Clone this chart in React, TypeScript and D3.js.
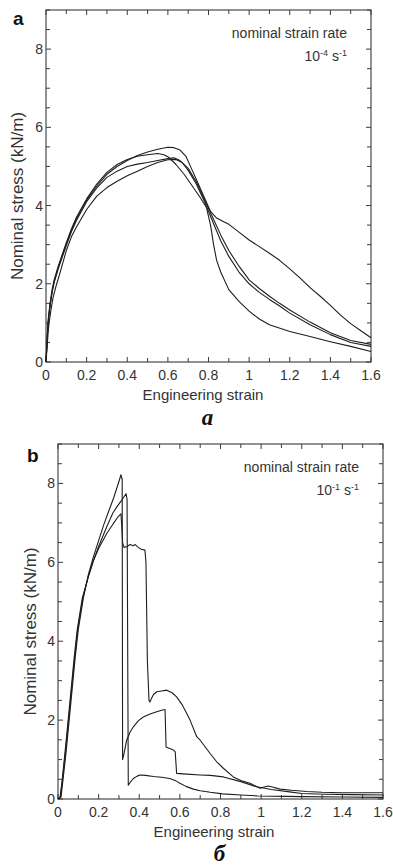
import React from "react";
import * as d3 from "d3";

// ---------- data ----------
// Panel a (strain rate 1e-4 s^-1): four specimens, [strain, stress kN/m]
const aCurveA: [number, number][] = [
  [0, 0], [0.004, 0.4], [0.008, 0.8], [0.012, 1.1], [0.02, 1.45], [0.03, 1.8], [0.04, 2.05], [0.06, 2.4],
  [0.08, 2.72], [0.1, 3.02], [0.125, 3.37], [0.15, 3.67], [0.2, 4.14], [0.25, 4.5], [0.3, 4.8], [0.35, 5.0],
  [0.4, 5.15], [0.45, 5.28], [0.5, 5.37], [0.55, 5.44], [0.6, 5.49], [0.63, 5.48], [0.66, 5.42], [0.69, 5.25],
  [0.72, 4.9], [0.75, 4.55], [0.78, 4.2], [0.81, 3.85], [0.84, 3.68], [0.87, 3.6], [0.9, 3.52], [0.95, 3.32],
  [1.0, 3.12], [1.05, 2.95], [1.1, 2.78], [1.15, 2.6], [1.2, 2.38], [1.25, 2.15], [1.3, 1.9], [1.35, 1.68],
  [1.4, 1.45], [1.45, 1.2], [1.5, 0.98], [1.55, 0.8], [1.6, 0.62],
];
const aCurveB: [number, number][] = [
  [0, 0], [0.004, 0.45], [0.008, 0.85], [0.012, 1.15], [0.02, 1.5], [0.03, 1.85], [0.04, 2.1], [0.06, 2.45],
  [0.08, 2.75], [0.1, 3.05], [0.125, 3.4], [0.15, 3.7], [0.2, 4.17], [0.25, 4.55], [0.3, 4.85], [0.35, 5.05],
  [0.4, 5.18], [0.45, 5.26], [0.5, 5.3], [0.55, 5.33], [0.58, 5.3], [0.6, 5.25], [0.64, 5.05], [0.68, 4.8],
  [0.72, 4.5], [0.76, 4.2], [0.79, 3.95], [0.81, 3.5], [0.825, 3.0], [0.84, 2.6], [0.86, 2.3], [0.9, 1.85],
  [0.95, 1.55], [1.0, 1.3], [1.05, 1.1], [1.1, 0.95], [1.2, 0.78], [1.3, 0.65], [1.4, 0.52], [1.5, 0.4],
  [1.6, 0.27],
];
const aCurveC: [number, number][] = [
  [0, 0], [0.004, 0.4], [0.008, 0.78], [0.012, 1.08], [0.02, 1.43], [0.03, 1.78], [0.04, 2.03], [0.06, 2.38],
  [0.08, 2.68], [0.1, 2.98], [0.125, 3.33], [0.15, 3.62], [0.2, 4.1], [0.25, 4.45], [0.3, 4.72], [0.35, 4.88],
  [0.4, 5.0], [0.45, 5.06], [0.5, 5.1], [0.55, 5.15], [0.6, 5.2], [0.63, 5.22], [0.66, 5.15], [0.7, 4.95],
  [0.74, 4.6], [0.78, 4.15], [0.82, 3.7], [0.86, 3.25], [0.9, 2.85], [0.95, 2.45], [1.0, 2.1], [1.05, 1.88],
  [1.1, 1.68], [1.15, 1.5], [1.2, 1.33], [1.3, 1.02], [1.4, 0.75], [1.5, 0.55], [1.6, 0.45],
];
const aCurveD: [number, number][] = [
  [0, 0], [0.005, 0.35], [0.01, 0.72], [0.015, 1.0], [0.025, 1.35], [0.035, 1.65], [0.05, 1.95], [0.07, 2.3],
  [0.1, 2.85], [0.125, 3.2], [0.15, 3.45], [0.2, 3.9], [0.25, 4.24], [0.3, 4.46], [0.35, 4.62], [0.4, 4.76],
  [0.45, 4.88], [0.5, 5.0], [0.55, 5.1], [0.6, 5.17], [0.64, 5.18], [0.67, 5.1], [0.7, 4.9], [0.74, 4.55],
  [0.78, 4.1], [0.82, 3.6], [0.86, 3.1], [0.9, 2.7], [0.95, 2.3], [1.0, 2.0], [1.05, 1.78], [1.1, 1.6],
  [1.15, 1.43], [1.2, 1.25], [1.3, 0.95], [1.4, 0.7], [1.5, 0.5], [1.6, 0.4],
];

// Panel b (strain rate 1e-1 s^-1): three specimens
const bCurveA: [number, number][] = [
  [0, 0], [0.015, 0.05], [0.025, 0.5], [0.04, 1.2], [0.055, 2.0], [0.07, 2.8], [0.085, 3.6], [0.1, 4.3],
  [0.125, 5.1], [0.15, 5.7], [0.175, 6.15], [0.2, 6.55], [0.225, 6.95], [0.25, 7.3], [0.275, 7.65], [0.3, 8.05],
  [0.31, 8.22], [0.316, 8.1], [0.318, 1.0], [0.325, 1.15], [0.338, 1.49], [0.355, 1.7], [0.371, 1.83],
  [0.395, 1.98], [0.42, 2.08], [0.45, 2.15], [0.486, 2.21], [0.51, 2.25], [0.527, 2.27], [0.532, 1.32],
  [0.55, 1.28], [0.568, 1.24], [0.577, 1.2], [0.584, 0.65], [0.634, 0.63], [0.7, 0.61], [0.75, 0.6],
  [0.814, 0.56], [0.9, 0.44], [0.978, 0.31], [1.05, 0.24], [1.14, 0.18], [1.2, 0.14], [1.31, 0.12],
  [1.45, 0.11], [1.6, 0.1],
];
const bCurveB: [number, number][] = [
  [0, 0], [0.01, 0.05], [0.02, 0.45], [0.035, 1.2], [0.05, 2.0], [0.065, 2.8], [0.08, 3.6], [0.095, 4.3],
  [0.12, 5.1], [0.15, 5.65], [0.175, 6.05], [0.2, 6.4], [0.24, 6.9], [0.27, 7.25], [0.289, 7.4], [0.31, 7.55],
  [0.335, 7.74], [0.34, 7.6], [0.346, 0.35], [0.355, 0.42], [0.371, 0.52], [0.39, 0.58], [0.404, 0.61],
  [0.43, 0.6], [0.47, 0.57], [0.51, 0.55], [0.55, 0.52], [0.58, 0.46], [0.6, 0.4], [0.63, 0.32], [0.666, 0.25],
  [0.7, 0.21], [0.75, 0.17], [0.81, 0.13], [0.9, 0.1], [0.98, 0.08], [1.2, 0.06], [1.4, 0.05], [1.6, 0.04],
];
const bCurveC: [number, number][] = [
  [0, 0], [0.012, 0.05], [0.022, 0.5], [0.037, 1.2], [0.052, 2.0], [0.067, 2.8], [0.082, 3.6], [0.097, 4.3],
  [0.122, 5.1], [0.15, 5.65], [0.175, 6.05], [0.2, 6.35], [0.24, 6.73], [0.272, 6.98], [0.295, 7.15],
  [0.31, 7.23], [0.314, 6.9], [0.318, 6.5], [0.325, 6.38], [0.34, 6.4], [0.355, 6.45], [0.37, 6.42],
  [0.38, 6.45], [0.395, 6.38], [0.41, 6.33], [0.428, 6.31], [0.433, 6.0], [0.44, 3.5], [0.448, 2.5],
  [0.453, 2.46], [0.46, 2.55], [0.47, 2.65], [0.486, 2.72], [0.51, 2.74], [0.535, 2.76], [0.56, 2.7],
  [0.584, 2.59], [0.61, 2.4], [0.634, 2.17], [0.65, 2.0], [0.683, 1.58], [0.7, 1.49], [0.748, 1.16],
  [0.78, 0.95], [0.814, 0.78], [0.863, 0.56], [0.9, 0.47], [0.945, 0.4], [0.995, 0.27], [1.01, 0.3],
  [1.035, 0.33], [1.06, 0.3], [1.093, 0.25], [1.15, 0.22], [1.225, 0.19], [1.3, 0.17], [1.39, 0.16],
  [1.5, 0.16], [1.6, 0.16],
];

const xTickValues = [0, 0.2, 0.4, 0.6, 0.8, 1, 1.2, 1.4, 1.6];
const xTickLabels = ["0", "0.2", "0.4", "0.6", "0.8", "1", "1.2", "1.4", "1.6"];
const yTickValues = [0, 2, 4, 6, 8];
const yTickLabels = ["0", "2", "4", "6", "8"];
const xMinorStep = 0.1;
const yMinorStep = 0.5;
const xDomain: [number, number] = [0, 1.6];
const yDomain: [number, number] = [0, 9];

const FONT = "'Liberation Sans', Arial, Helvetica, sans-serif";
const AXIS = "#3a3a3a";
const TEXT = "#333";

type PanelProps = {
  left: number; right: number; top: number; bottom: number;
  curves: [number, number][][];
  letter: string; letterX: number; letterY: number;
  rateExp: string;
  xLabelX: number; caption: string; captionY: number;
  yLabelX: number;
};

function Panel(p: PanelProps) {
  const x = d3.scaleLinear().domain(xDomain).range([p.left, p.right]);
  const y = d3.scaleLinear().domain(yDomain).range([p.bottom, p.top]);
  const line = d3.line<[number, number]>().x((d) => x(d[0])).y((d) => y(d[1]));
  const xMinor = d3.range(xDomain[0], xDomain[1] + 1e-9, xMinorStep);
  const yMinor = d3.range(yDomain[0], yDomain[1] + 1e-9, yMinorStep);
  const isMajX = (v: number) => xTickValues.some((t) => Math.abs(t - v) < 1e-6);
  const isMajY = (v: number) => yTickValues.some((t) => Math.abs(t - v) < 1e-6);
  return (
    <g>
      <rect x={p.left} y={p.top} width={p.right - p.left} height={p.bottom - p.top}
        fill="none" stroke={AXIS} strokeWidth={1.1} />
      {xMinor.map((v, i) => {
        const L = isMajX(v) ? 5 : 4;
        return (
          <g key={"xt" + i}>
            <line x1={x(v)} x2={x(v)} y1={p.bottom} y2={p.bottom - L} stroke={AXIS} strokeWidth={1} />
            <line x1={x(v)} x2={x(v)} y1={p.top} y2={p.top + L} stroke={AXIS} strokeWidth={1} />
          </g>
        );
      })}
      {yMinor.map((v, i) => {
        const L = isMajY(v) ? 5 : 4;
        return (
          <g key={"yt" + i}>
            <line x1={p.left} x2={p.left + L} y1={y(v)} y2={y(v)} stroke={AXIS} strokeWidth={1} />
            <line x1={p.right} x2={p.right - L} y1={y(v)} y2={y(v)} stroke={AXIS} strokeWidth={1} />
          </g>
        );
      })}
      {xTickValues.map((v, i) => (
        <text key={"xl" + i} x={x(v)} y={p.bottom + 18} textAnchor="middle"
          fontFamily={FONT} fontSize={14} fill={TEXT}>{xTickLabels[i]}</text>
      ))}
      {yTickValues.map((v, i) => (
        <text key={"yl" + i} x={p.left - 3} y={y(v) + 5} textAnchor="end"
          fontFamily={FONT} fontSize={14} fill={TEXT}>{yTickLabels[i]}</text>
      ))}
      {p.curves.map((c, i) => (
        <path key={"c" + i} d={line(c) || ""} fill="none" stroke="#1e1e1e" strokeWidth={1.1}
          strokeLinejoin="round" />
      ))}
      <text x={p.right - 24} y={p.top + 28} textAnchor="end" fontFamily={FONT} fontSize={14} fill={TEXT}>
        nominal strain rate
      </text>
      <text x={p.right - 24} y={p.top + 51} textAnchor="end" fontFamily={FONT} fontSize={14} fill={TEXT}>
        <tspan>10</tspan>
        <tspan dy={-5} fontSize={9}>{p.rateExp}</tspan>
        <tspan dy={5}> s</tspan>
        <tspan dy={-5} fontSize={9}>-1</tspan>
      </text>
      <text x={p.xLabelX} y={p.bottom + 38} textAnchor="middle" fontFamily={FONT} fontSize={15} fill={TEXT}>
        Engineering strain
      </text>
      <text transform={`translate(${p.yLabelX},${(p.top + p.bottom) / 2 + 10}) rotate(-90)`}
        textAnchor="middle" fontFamily={FONT} fontSize={17} fill={TEXT}>
        Nominal stress (kN/m)
      </text>
      <text x={p.letterX} y={p.letterY} fontFamily={FONT} fontSize={19} fontWeight="bold" fill="#111">
        {p.letter}
      </text>
      <text x={(p.left + p.right) / 2 - 1} y={p.captionY} textAnchor="middle"
        fontFamily="'Liberation Serif', 'Times New Roman', serif" fontSize={23} fontWeight="bold"
        fontStyle="italic" fill="#111">
        {p.caption}
      </text>
    </g>
  );
}

export default function App() {
  return (
    <svg width={393} height={865} viewBox="0 0 393 865"
      style={{ position: "absolute", left: 0, top: 0, background: "#fff" }}>
      <rect x={0} y={0} width={393} height={865} fill="#fff" />
      <Panel left={46} right={371} top={10} bottom={362}
        curves={[aCurveA, aCurveB, aCurveC, aCurveD]}
        letter="a" letterX={13} letterY={25} rateExp="-4"
        xLabelX={203} caption="a" captionY={425} yLabelX={23} />
      <Panel left={58} right={383} top={444} bottom={799}
        curves={[bCurveA, bCurveB, bCurveC]}
        letter="b" letterX={27} letterY={462} rateExp="-1"
        xLabelX={214} caption="б" captionY={861} yLabelX={36} />
    </svg>
  );
}
